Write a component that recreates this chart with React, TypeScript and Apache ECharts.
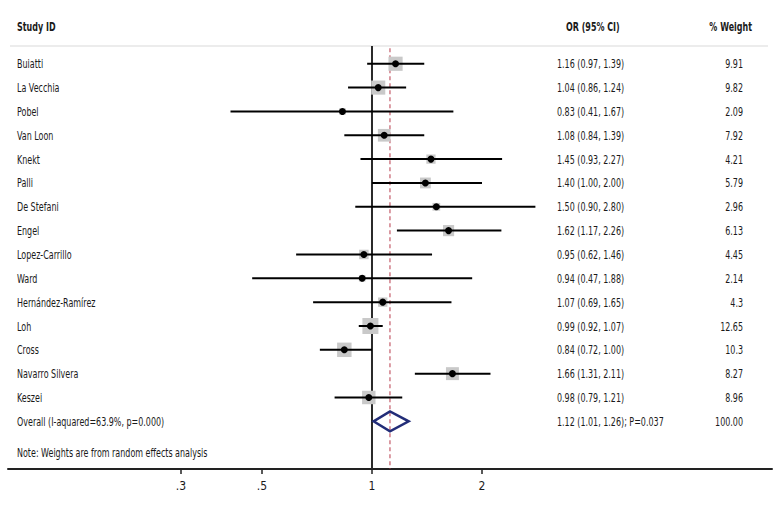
import React, { useEffect, useRef } from 'react';
import * as echarts from 'echarts';

const STUDIES = ['Buiatti', 'La Vecchia', 'Pobel', 'Van Loon', 'Knekt', 'Palli', 'De Stefani', 'Engel', 'Lopez-Carrillo', 'Ward', 'Hernández-Ramírez', 'Loh', 'Cross', 'Navarro Silvera', 'Keszei'];
const OR = [1.16, 1.04, 0.83, 1.08, 1.45, 1.40, 1.50, 1.62, 0.95, 0.94, 1.07, 0.99, 0.84, 1.66, 0.98];
const LOWER = [0.97, 0.86, 0.41, 0.84, 0.93, 1.00, 0.90, 1.17, 0.62, 0.47, 0.69, 0.92, 0.72, 1.31, 0.79];
const UPPER = [1.39, 1.24, 1.67, 1.39, 2.27, 2.00, 2.80, 2.26, 1.46, 1.88, 1.65, 1.07, 1.00, 2.11, 1.21];
const WEIGHTS = ['9.91', '9.82', '2.09', '7.92', '4.21', '5.79', '2.96', '6.13', '4.45', '2.14', '4.3', '12.65', '10.3', '8.27', '8.96'];

const OVERALL_LABEL = 'Overall (I-aquared=63.9%, p=0.000)';
const OVERALL_OR = 1.12;
const OVERALL_LOWER = 1.01;
const OVERALL_UPPER = 1.26;
const OVERALL_P = '0.037';
const OVERALL_WEIGHT = '100.00';
const NOTE = 'Note: Weights are from random effects analysis';
const HEADERS = ['Study ID', 'OR (95% CI)', '% Weight'];

const TICKS = [0.3, 0.5, 1, 2];
const TICK_LABELS = ['.3', '.5', '1', '2'];

const FONT = "'DejaVu Sans Condensed', 'Liberation Sans Narrow', 'Arial Narrow', sans-serif";
const TEXT_COLOR = '#1a1a1a';

// layout constants (pixels / row units)
const NAME_X = 17;
const OR_X = 557;
const OR_HEAD_X = 566;
const W_RIGHT = 743;
const W_HEAD_RIGHT = 752;
const HEADER_ROW = -0.55;
const HEADER_LINE_ROW = 0.25;
const NOTE_ROW = 17.3;
const BOTTOM_ROW = 18;
const SQUARE_SCALE = 4.5;
const FONT_SIZE = 12;
const TEXT_SCALE_X = 0.74;

const fmt = (v: number) => v.toFixed(2);

export default function App() {
  const ref = useRef<HTMLDivElement>(null);

  useEffect(() => {
    if (!ref.current) return;
    const chart = echarts.init(ref.current, null, { renderer: 'svg' });

    const studyData = STUDIES.map((_, i) => [Math.log(OR[i]), Math.log(LOWER[i]), Math.log(UPPER[i]), i + 1, parseFloat(WEIGHTS[i])]);
    const overallRow = STUDIES.length + 1;

    type TRow = { row: number; name: string; or: string; w: string; bold: boolean };
    const textRows: TRow[] = [
      { row: HEADER_ROW, name: HEADERS[0], or: HEADERS[1], w: HEADERS[2], bold: true },
      ...STUDIES.map((s, i) => ({
        row: i + 1,
        name: s,
        or: `${fmt(OR[i])} (${fmt(LOWER[i])}, ${fmt(UPPER[i])})`,
        w: WEIGHTS[i],
        bold: false,
      })),
      {
        row: overallRow,
        name: OVERALL_LABEL,
        or: `${fmt(OVERALL_OR)} (${fmt(OVERALL_LOWER)}, ${fmt(OVERALL_UPPER)}); P=${OVERALL_P}`,
        w: OVERALL_WEIGHT,
        bold: false,
      },
      { row: NOTE_ROW, name: NOTE, or: '', w: '', bold: false },
    ];

    const option: any = {
      animation: false,
      textStyle: { fontFamily: FONT },
      grid: { left: 8, right: 8, top: 28, bottom: 47 },
      xAxis: {
        type: 'value',
        min: -2.2936,
        max: 2.5205,
        splitLine: { show: false },
        axisLine: { show: true, onZero: false, lineStyle: { color: '#222', width: 2 } },
        axisTick: {
          show: true,
          length: 5,
          customValues: TICKS.map((t) => Math.log(t)),
          lineStyle: { color: '#222', width: 1.5 },
        },
        axisLabel: {
          show: true,
          customValues: TICKS.map((t) => Math.log(t)),
          fontSize: 12,
          color: TEXT_COLOR,
          margin: 11,
          fontFamily: FONT,
          formatter: (v: number) => {
            let best = 0;
            TICKS.forEach((t, i) => {
              if (Math.abs(Math.log(t) - v) < Math.abs(Math.log(TICKS[best]) - v)) best = i;
            });
            return TICK_LABELS[best];
          },
        },
      },
      yAxis: {
        type: 'value',
        inverse: true,
        min: -0.5,
        max: BOTTOM_ROW,
        show: false,
      },
      series: [
        {
          type: 'custom',
          name: 'frame',
          clip: false,
          z: 1,
          data: [[0]],
          renderItem: (params: any, api: any) => {
            const top = api.coord([0, HEADER_LINE_ROW]);
            const bot = api.coord([0, BOTTOM_ROW]);
            const redTop = api.coord([Math.log(OVERALL_OR), HEADER_LINE_ROW + 0.1]);
            const redBot = api.coord([Math.log(OVERALL_OR), BOTTOM_ROW]);
            return {
              type: 'group',
              children: [
                { type: 'line', shape: { x1: 10, y1: top[1], x2: 768, y2: top[1] }, style: { stroke: '#ececec', lineWidth: 2 } },
                { type: 'line', shape: { x1: top[0], y1: top[1], x2: bot[0], y2: bot[1] }, style: { stroke: '#2a2a2a', lineWidth: 2 } },
                { type: 'line', shape: { x1: redTop[0], y1: redTop[1], x2: redBot[0], y2: redBot[1] }, style: { stroke: '#b83a4b', lineWidth: 1, lineDash: [4, 3] } },
              ],
            };
          },
        },
        {
          type: 'custom',
          name: 'studies',
          clip: false,
          z: 2,
          data: studyData,
          renderItem: (params: any, api: any) => {
            const row = api.value(3);
            const p = api.coord([api.value(0), row]);
            const l = api.coord([api.value(1), row]);
            const h = api.coord([api.value(2), row]);
            const size = SQUARE_SCALE * Math.sqrt(api.value(4));
            return {
              type: 'group',
              children: [
                { type: 'rect', shape: { x: p[0] - size / 2, y: p[1] - size / 2, width: size, height: size }, style: { fill: '#c9c9c9' } },
                { type: 'line', shape: { x1: l[0], y1: p[1], x2: h[0], y2: p[1] }, style: { stroke: '#000', lineWidth: 2 } },
                { type: 'circle', shape: { cx: p[0], cy: p[1], r: 3.5 }, style: { fill: '#000' } },
              ],
            };
          },
        },
        {
          type: 'custom',
          name: 'overall',
          clip: false,
          z: 3,
          data: [[Math.log(OVERALL_OR), Math.log(OVERALL_LOWER), Math.log(OVERALL_UPPER), overallRow]],
          renderItem: (params: any, api: any) => {
            const row = api.value(3);
            const p = api.coord([api.value(0), row]);
            const l = api.coord([api.value(1), row]);
            const h = api.coord([api.value(2), row]);
            const hh = 10;
            return {
              type: 'polygon',
              shape: { points: [[l[0], p[1]], [p[0], p[1] - hh], [h[0], p[1]], [p[0], p[1] + hh]] },
              style: { fill: 'none', stroke: '#222d78', lineWidth: 2.5 },
            };
          },
        },
        {
          type: 'custom',
          name: 'table',
          clip: false,
          z: 4,
          data: textRows.map((r) => [0, r.row]),
          renderItem: (params: any, api: any) => {
            const r = textRows[params.dataIndex];
            const y = api.coord([0, api.value(1)])[1];
            const base = { fontFamily: FONT, fontSize: FONT_SIZE, fill: TEXT_COLOR, fontWeight: r.bold ? 'bold' : 'normal', verticalAlign: 'middle' };
            return {
              type: 'group',
              children: [
                { type: 'text', x: NAME_X, y, scaleX: TEXT_SCALE_X, style: { ...base, text: r.name, align: 'left' } },
                { type: 'text', x: r.bold ? OR_HEAD_X : OR_X, y, scaleX: TEXT_SCALE_X, style: { ...base, text: r.or, align: 'left' } },
                { type: 'text', x: r.bold ? W_HEAD_RIGHT : W_RIGHT, y, scaleX: TEXT_SCALE_X, style: { ...base, text: r.w, align: 'right' } },
              ],
            };
          },
        },
      ],
    };

    chart.setOption(option);
    return () => chart.dispose();
  }, []);

  return <div ref={ref} style={{ width: 780, height: 516, position: 'absolute', left: 0, top: 0 }} />;
}
